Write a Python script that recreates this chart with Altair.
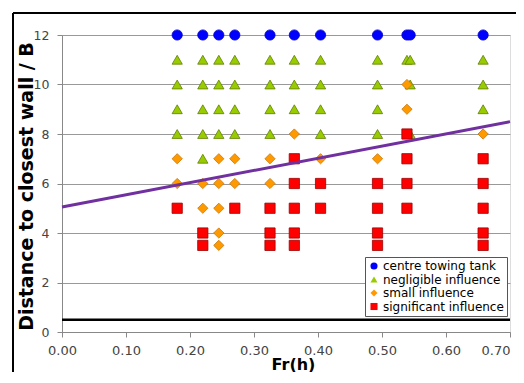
import altair as alt
import pandas as pd

# --- data ---
series_names = ["centre towing tank", "negligible influence", "small influence", "significant influence"]

centre_x = [0.18, 0.22, 0.245, 0.27, 0.325, 0.363, 0.404, 0.493, 0.539, 0.544, 0.658]
centre_y = [12, 12, 12, 12, 12, 12, 12, 12, 12, 12, 12]

negl_x = [0.18]*4 + [0.22]*5 + [0.245]*4 + [0.27]*4 + [0.325]*4 + [0.363]*3 + [0.404]*4 + [0.493]*4 + [0.539] + [0.544]*3 + [0.658]*3
negl_y = [11, 10, 9, 8,
          11, 10, 9, 8, 7,
          11, 10, 9, 8,
          11, 10, 9, 8,
          11, 10, 9, 8,
          11, 10, 9,
          11, 10, 9, 8,
          11, 10, 9, 8,
          11,
          11, 10, 8,
          11, 10, 9]

small_x = [0.18]*2 + [0.22]*2 + [0.245]*5 + [0.27]*2 + [0.325]*2 + [0.363] + [0.404] + [0.493] + [0.539]*2 + [0.658]
small_y = [7, 6,
           6, 5,
           7, 6, 5, 4, 3.5,
           7, 6,
           7, 6,
           8,
           7,
           7,
           10, 9,
           8]

sig_x = [0.18] + [0.22]*2 + [0.27] + [0.325]*3 + [0.363]*5 + [0.404]*2 + [0.493]*4 + [0.539]*4 + [0.658]*5
sig_y = [5,
         4, 3.5,
         5,
         5, 4, 3.5,
         7, 6, 5, 4, 3.5,
         6, 5,
         6, 5, 4, 3.5,
         8, 7, 6, 5,
         7, 6, 5, 4, 3.5]

trend_x = [0.0, 0.7]
trend_y = [5.05, 8.5]

limit_x = [0.0, 0.7]
limit_y = [0.5, 0.5]

x_ticks = [0.0, 0.1, 0.2, 0.3, 0.4, 0.5, 0.6, 0.7]
y_ticks = [0, 2, 4, 6, 8, 10, 12]

fill_colors = ["#0000FF", "#99CC00", "#FF9900", "#FF0000"]
stroke_colors = ["#0000CC", "#5E7F00", "#C87400", "#9A0000"]
shapes = ["circle", "triangle-up", "diamond", "square"]

# --- build tables ---
rows = []
for name, xs, ys in zip(series_names,
                        [centre_x, negl_x, small_x, sig_x],
                        [centre_y, negl_y, small_y, sig_y]):
    for xv, yv in zip(xs, ys):
        rows.append({"Fr": xv, "D": yv, "series": name})
pts = pd.DataFrame(rows)
pts["order"] = range(len(pts))

trend = pd.DataFrame({"Fr": trend_x, "D": trend_y})
limit = pd.DataFrame({"Fr": limit_x, "D": limit_y})

W, H = 448, 297

xscale = alt.Scale(domain=[0, 0.7], nice=False, zero=False)
yscale = alt.Scale(domain=[0, 12], nice=False)

xaxis = alt.Axis(title="Fr(h)", values=x_ticks, format=".2f", grid=False,
                 domain=True, domainColor="#888888", tickColor="#888888", tickSize=5,
                 labelFont="DejaVu Sans", labelFontSize=13, labelColor="#444444",
                 labelPadding=7, titleFont="DejaVu Sans", titleFontSize=16,
                 titleFontWeight="bold", titleColor="#000000",
                 titleBaseline="alphabetic", titleAlign="center",
                 titleX=231, titleY=37, labelFlush=False,
                 labelAlign=alt.ExprRef("datum.value >= 0.69 ? 'right' : 'center'"))
yaxis = alt.Axis(title="Distance to closest wall / B", values=y_ticks, format="d",
                 grid=True, gridColor="#999999", gridWidth=1,
                 domain=True, domainColor="#888888", tickColor="#888888", tickSize=5,
                 labelFont="DejaVu Sans", labelFontSize=12.5, labelColor="#444444",
                 labelPadding=8, titleFont="DejaVu Sans", titleFontSize=19,
                 titleFontWeight="bold", titleColor="#000000",
                 titleAngle=270, titleBaseline="alphabetic", titleAlign="center",
                 titleX=-30, titleY=151)

legend_opts = dict(title=None, orient="none", legendX=303, legendY=222,
                   labelFont="DejaVu Sans", labelFontSize=12,
                   labelColor="#000000", symbolSize=50,
                   symbolStrokeWidth=0, labelOffset=3,
                   rowPadding=1.5, padding=3,
                   strokeColor="#555555", fillColor="#FFFFFF",
                   cornerRadius=0)

points = alt.Chart(pts).mark_point(filled=True, size=105, strokeWidth=0.8, opacity=1).encode(
    x=alt.X("Fr:Q", scale=xscale, axis=xaxis),
    y=alt.Y("D:Q", scale=yscale, axis=yaxis),
    color=alt.Color("series:N", sort=series_names,
                    scale=alt.Scale(domain=series_names, range=fill_colors),
                    legend=alt.Legend(**legend_opts)),
    shape=alt.Shape("series:N", sort=series_names,
                    scale=alt.Scale(domain=series_names, range=shapes),
                    legend=alt.Legend(**legend_opts)),
    stroke=alt.Stroke("series:N", scale=alt.Scale(domain=series_names, range=stroke_colors),
                      legend=None),
    order=alt.Order("order:Q"),
)

trend_line = alt.Chart(trend).mark_line(color="#7030A0", strokeWidth=3).encode(
    x=alt.X("Fr:Q", scale=xscale),
    y=alt.Y("D:Q", scale=yscale),
)

limit_line = alt.Chart(limit).mark_line(color="#000000", strokeWidth=2.5).encode(
    x=alt.X("Fr:Q", scale=xscale),
    y=alt.Y("D:Q", scale=yscale),
)

# decorative outer frame of the original figure (top and left edges)
frame_top = alt.Chart(pd.DataFrame({"a": [0]})).mark_rule(color="#000000", strokeWidth=2, clip=False).encode(
    x=alt.value(-49), x2=alt.value(470), y=alt.value(-22))
frame_left = alt.Chart(pd.DataFrame({"a": [0]})).mark_rule(color="#000000", strokeWidth=2, clip=False).encode(
    x=alt.value(-49), y=alt.value(-22), y2=alt.value(360))

chart = alt.layer(limit_line, points, trend_line, frame_top, frame_left).properties(
    width=W, height=H,
    autosize=alt.AutoSizeParams(type="none"),
    padding={"left": 54, "top": 27, "right": 6, "bottom": 40},
).configure_view(stroke=None).configure(background="#FFFFFF")

chart.save("out.html", embed_options={"renderer": "svg", "actions": False})
